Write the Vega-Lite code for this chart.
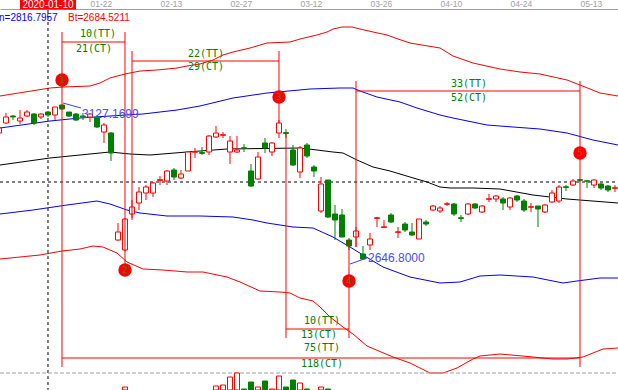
{
  "$schema": "https://vega.github.io/schema/vega-lite/v6.json",
  "width": 618,
  "height": 390,
  "autosize": "none",
  "padding": 0,
  "background": "#ffffff",
  "config": {"view": {"stroke": null}, "scale": {"continuousPadding": 0}},
  "datasets": {
    "candles": [
      {"k": -1, "o": 3038.7, "c": 3054.2, "h": 3057.3, "l": 3035.6, "t": "up"},
      {"k": 0, "o": 3069.7, "c": 3088.3, "h": 3100.7, "l": 3066.6, "t": "up"},
      {"k": 1, "o": 3091.4, "c": 3088.3, "h": 3094.5, "l": 3079, "t": "down"},
      {"k": 2, "o": 3075.9, "c": 3085.2, "h": 3110, "l": 3066.6, "t": "up"},
      {"k": 3, "o": 3091.4, "c": 3103.8, "h": 3110, "l": 3088.3, "t": "up"},
      {"k": 4, "o": 3097.6, "c": 3069.7, "h": 3100.7, "l": 3063.5, "t": "down"},
      {"k": 5, "o": 3088.3, "c": 3097.6, "h": 3100.7, "l": 3082.1, "t": "up"},
      {"k": 6, "o": 3103.8, "c": 3094.5, "h": 3106.9, "l": 3088.3, "t": "down"},
      {"k": 7, "o": 3094.5, "c": 3119.3, "h": 3119.3, "l": 3079, "t": "up"},
      {"k": 8, "o": 3125.5, "c": 3113.1, "h": 3127.17, "l": 3110, "t": "down"},
      {"k": 9, "o": 3103.8, "c": 3091.4, "h": 3103.8, "l": 3088.3, "t": "down"},
      {"k": 10, "o": 3097.6, "c": 3079, "h": 3100.7, "l": 3075.9, "t": "down"},
      {"k": 11, "o": 3091.4, "c": 3088.3, "h": 3100.7, "l": 3079, "t": "down"},
      {"k": 12, "o": 3088.3, "c": 3097.6, "h": 3100.7, "l": 3072.8, "t": "up"},
      {"k": 13, "o": 3088.3, "c": 3057.3, "h": 3094.5, "l": 3054.2, "t": "down"},
      {"k": 14, "o": 3041.8, "c": 3063.5, "h": 3069.7, "l": 3007.7, "t": "up"},
      {"k": 15, "o": 3038.7, "c": 2976.7, "h": 3041.8, "l": 2951.9, "t": "down"},
      {"k": 16, "o": 2707, "c": 2731.8, "h": 2759.7, "l": 2703.9, "t": "up"},
      {"k": 17, "o": 2676, "c": 2772.1, "h": 2775.2, "l": 2672.9, "t": "up"},
      {"k": 18, "o": 2787.6, "c": 2809.3, "h": 2831, "l": 2769, "t": "up"},
      {"k": 19, "o": 2821.7, "c": 2855.8, "h": 2871.3, "l": 2800, "t": "up"},
      {"k": 20, "o": 2852.7, "c": 2871.3, "h": 2877.5, "l": 2831, "t": "up"},
      {"k": 21, "o": 2852.7, "c": 2883.7, "h": 2886.8, "l": 2840.3, "t": "up"},
      {"k": 22, "o": 2891, "c": 2894, "h": 2905.4, "l": 2877.5, "t": "up"},
      {"k": 23, "o": 2889.9, "c": 2920.9, "h": 2924, "l": 2877.5, "t": "up"},
      {"k": 24, "o": 2924, "c": 2902.3, "h": 2930.2, "l": 2893, "t": "down"},
      {"k": 25, "o": 2899.2, "c": 2911.6, "h": 2924, "l": 2896.1, "t": "up"},
      {"k": 26, "o": 2920.9, "c": 2979.8, "h": 2979.8, "l": 2920.9, "t": "up"},
      {"k": 27, "o": 2979, "c": 2981, "h": 2992.2, "l": 2961.2, "t": "up"},
      {"k": 28, "o": 2978, "c": 2975.5, "h": 2995.3, "l": 2970.5, "t": "down"},
      {"k": 29, "o": 2979.8, "c": 3029.4, "h": 3032.5, "l": 2970.5, "t": "up"},
      {"k": 30, "o": 3026.3, "c": 3038.7, "h": 3060.4, "l": 3023.2, "t": "up"},
      {"k": 31, "o": 3031.5, "c": 3033.5, "h": 3041.8, "l": 3023.2, "t": "up"},
      {"k": 32, "o": 2979.8, "c": 3013.9, "h": 3029.4, "l": 2942.6, "t": "up"},
      {"k": 33, "o": 2979.8, "c": 2986, "h": 3029.4, "l": 2976.7, "t": "up"},
      {"k": 34, "o": 2993, "c": 2991, "h": 3004.6, "l": 2979.8, "t": "down"},
      {"k": 35, "o": 2920.9, "c": 2874.4, "h": 2942.6, "l": 2871.3, "t": "down"},
      {"k": 36, "o": 2896.1, "c": 2964.3, "h": 2979.8, "l": 2893, "t": "up"},
      {"k": 37, "o": 3007.7, "c": 2992.2, "h": 3023.2, "l": 2976.7, "t": "down"},
      {"k": 38, "o": 2979.8, "c": 3007.7, "h": 3010.8, "l": 2967.4, "t": "up"},
      {"k": 39, "o": 3038.7, "c": 3069.7, "h": 3079, "l": 3023.2, "t": "up"},
      {"k": 40, "o": 3040, "c": 3037.5, "h": 3051.1, "l": 3023.2, "t": "down"},
      {"k": 41, "o": 2986, "c": 2939.5, "h": 3001.5, "l": 2936.4, "t": "down"},
      {"k": 42, "o": 2917.8, "c": 2992.2, "h": 2998.4, "l": 2899.2, "t": "up"},
      {"k": 43, "o": 3001.5, "c": 2967.4, "h": 3007.7, "l": 2961.2, "t": "down"},
      {"k": 44, "o": 2933.3, "c": 2920.9, "h": 2939.5, "l": 2902.3, "t": "down"},
      {"k": 45, "o": 2796.9, "c": 2880.6, "h": 2902.3, "l": 2790.7, "t": "up"},
      {"k": 46, "o": 2893, "c": 2778.3, "h": 2893, "l": 2775, "t": "down"},
      {"k": 47, "o": 2787.6, "c": 2769, "h": 2815.5, "l": 2707, "t": "down"},
      {"k": 48, "o": 2784.5, "c": 2716.3, "h": 2803.1, "l": 2716.3, "t": "down"},
      {"k": 49, "o": 2707, "c": 2688.4, "h": 2713.2, "l": 2676, "t": "down"},
      {"k": 50, "o": 2716.3, "c": 2734.9, "h": 2747.3, "l": 2685.3, "t": "up"},
      {"k": 51, "o": 2663.6, "c": 2648.1, "h": 2688.4, "l": 2646.8, "t": "down"},
      {"k": 52, "o": 2691.5, "c": 2710.1, "h": 2728.7, "l": 2676, "t": "up"},
      {"k": 53, "o": 2774, "c": 2776, "h": 2778.3, "l": 2747.3, "t": "up"},
      {"k": 54, "o": 2745.5, "c": 2748, "h": 2769, "l": 2744.2, "t": "up"},
      {"k": 55, "o": 2784.5, "c": 2762.8, "h": 2790.7, "l": 2759.7, "t": "down"},
      {"k": 56, "o": 2730.5, "c": 2732.5, "h": 2747.3, "l": 2713.2, "t": "up"},
      {"k": 57, "o": 2756.6, "c": 2738, "h": 2762.8, "l": 2731.8, "t": "down"},
      {"k": 58, "o": 2731.8, "c": 2722.5, "h": 2759.7, "l": 2719.4, "t": "down"},
      {"k": 59, "o": 2710.1, "c": 2772.1, "h": 2772.1, "l": 2710.1, "t": "up"},
      {"k": 60, "o": 2762.8, "c": 2756.6, "h": 2769, "l": 2750.4, "t": "down"},
      {"k": 61, "o": 2800, "c": 2812.4, "h": 2815.5, "l": 2796.9, "t": "up"},
      {"k": 62, "o": 2796.9, "c": 2806.2, "h": 2812.4, "l": 2790.7, "t": "up"},
      {"k": 63, "o": 2817.5, "c": 2819.5, "h": 2824.8, "l": 2812.4, "t": "up"},
      {"k": 64, "o": 2818.6, "c": 2787.6, "h": 2821.7, "l": 2781.4, "t": "down"},
      {"k": 65, "o": 2776, "c": 2774, "h": 2784.5, "l": 2762.8, "t": "down"},
      {"k": 66, "o": 2787.6, "c": 2818.6, "h": 2821.7, "l": 2784.5, "t": "up"},
      {"k": 67, "o": 2818.6, "c": 2806.2, "h": 2821.7, "l": 2803.1, "t": "down"},
      {"k": 68, "o": 2793.8, "c": 2812.4, "h": 2815.5, "l": 2790.7, "t": "up"},
      {"k": 69, "o": 2833, "c": 2835, "h": 2849.6, "l": 2824.8, "t": "up"},
      {"k": 70, "o": 2834.1, "c": 2843.4, "h": 2846.5, "l": 2824.8, "t": "up"},
      {"k": 71, "o": 2834.1, "c": 2821.7, "h": 2840.3, "l": 2800, "t": "down"},
      {"k": 72, "o": 2809.3, "c": 2837.2, "h": 2840.3, "l": 2800, "t": "up"},
      {"k": 73, "o": 2843.4, "c": 2831, "h": 2846.5, "l": 2824.8, "t": "down"},
      {"k": 74, "o": 2827.9, "c": 2800, "h": 2834.1, "l": 2793.8, "t": "down"},
      {"k": 75, "o": 2808.3, "c": 2810.3, "h": 2821.7, "l": 2793.8, "t": "up"},
      {"k": 76, "o": 2812.4, "c": 2803.1, "h": 2812.4, "l": 2747.3, "t": "down"},
      {"k": 77, "o": 2793.8, "c": 2815.5, "h": 2818.6, "l": 2790.7, "t": "up"},
      {"k": 78, "o": 2824.8, "c": 2852.7, "h": 2862, "l": 2821.7, "t": "up"},
      {"k": 79, "o": 2827.9, "c": 2871.3, "h": 2877.5, "l": 2821.7, "t": "up"},
      {"k": 80, "o": 2872, "c": 2870, "h": 2877.5, "l": 2858.9, "t": "down"},
      {"k": 81, "o": 2877.5, "c": 2889.9, "h": 2896.1, "l": 2874.4, "t": "up"},
      {"k": 82, "o": 2894, "c": 2892, "h": 2896.1, "l": 2886.8, "t": "down"},
      {"k": 83, "o": 2890.5, "c": 2889.5, "h": 2890.5, "l": 2868.2, "t": "down"},
      {"k": 84, "o": 2877.5, "c": 2893, "h": 2896.1, "l": 2868.2, "t": "up"},
      {"k": 85, "o": 2880.6, "c": 2868.2, "h": 2883.7, "l": 2862, "t": "down"},
      {"k": 86, "o": 2874.4, "c": 2862, "h": 2877.5, "l": 2855.8, "t": "down"},
      {"k": 87, "o": 2867.2, "c": 2869.2, "h": 2877.5, "l": 2855.8, "t": "up"}
    ],
    "bands": [
      {"s": "U2", "k": -0.857, "v": 3153.4}, {"s": "U2", "k": 6.286, "v": 3178.2}, {"s": "U2", "k": 8.143, "v": 3181.3}, {"s": "U2", "k": 12, "v": 3184.4}, {"s": "U2", "k": 13.429, "v": 3193.7}, {"s": "U2", "k": 14.857, "v": 3209.2}, {"s": "U2", "k": 17, "v": 3221.6}, {"s": "U2", "k": 19.143, "v": 3230.9}, {"s": "U2", "k": 21.571, "v": 3234}, {"s": "U2", "k": 24.429, "v": 3240.2}, {"s": "U2", "k": 25.857, "v": 3246.4}, {"s": "U2", "k": 27.714, "v": 3252.6}, {"s": "U2", "k": 29.571, "v": 3265}, {"s": "U2", "k": 31, "v": 3280.5}, {"s": "U2", "k": 32.429, "v": 3289.8}, {"s": "U2", "k": 34.857, "v": 3302.2}, {"s": "U2", "k": 37.286, "v": 3317.7}, {"s": "U2", "k": 40.571, "v": 3320.8}, {"s": "U2", "k": 42, "v": 3330.1}, {"s": "U2", "k": 44.429, "v": 3342.5}, {"s": "U2", "k": 45.857, "v": 3351.8}, {"s": "U2", "k": 46.714, "v": 3361.1}, {"s": "U2", "k": 48, "v": 3367.3}, {"s": "U2", "k": 49.429, "v": 3367.3}, {"s": "U2", "k": 50.571, "v": 3361.1}, {"s": "U2", "k": 52.429, "v": 3351.8}, {"s": "U2", "k": 54.429, "v": 3342.5}, {"s": "U2", "k": 56, "v": 3330.1}, {"s": "U2", "k": 57.714, "v": 3317.7}, {"s": "U2", "k": 62, "v": 3302.2}, {"s": "U2", "k": 63.857, "v": 3277.4}, {"s": "U2", "k": 66.714, "v": 3255.7}, {"s": "U2", "k": 70.571, "v": 3237.1}, {"s": "U2", "k": 73.429, "v": 3227.8}, {"s": "U2", "k": 76.286, "v": 3221.6}, {"s": "U2", "k": 80.143, "v": 3203}, {"s": "U2", "k": 82, "v": 3187.5}, {"s": "U2", "k": 84.857, "v": 3162.7}, {"s": "U2", "k": 87.429, "v": 3153.4},
      {"s": "U1", "k": -0.857, "v": 3054.2}, {"s": "U1", "k": 6.286, "v": 3075.9}, {"s": "U1", "k": 10.571, "v": 3085.2}, {"s": "U1", "k": 14.857, "v": 3091.4}, {"s": "U1", "k": 19.571, "v": 3097.6}, {"s": "U1", "k": 24.429, "v": 3110}, {"s": "U1", "k": 27.714, "v": 3122.4}, {"s": "U1", "k": 32.429, "v": 3147.2}, {"s": "U1", "k": 37.286, "v": 3162.7}, {"s": "U1", "k": 43.429, "v": 3175.1}, {"s": "U1", "k": 47.714, "v": 3178.2}, {"s": "U1", "k": 49.571, "v": 3178.2}, {"s": "U1", "k": 50.571, "v": 3168.9}, {"s": "U1", "k": 53, "v": 3150.3}, {"s": "U1", "k": 56.286, "v": 3134.8}, {"s": "U1", "k": 58.714, "v": 3116.2}, {"s": "U1", "k": 62, "v": 3094.5}, {"s": "U1", "k": 63.857, "v": 3085.2}, {"s": "U1", "k": 68.714, "v": 3063.5}, {"s": "U1", "k": 72.429, "v": 3057.3}, {"s": "U1", "k": 76.286, "v": 3051.1}, {"s": "U1", "k": 80.143, "v": 3038.7}, {"s": "U1", "k": 83.857, "v": 3017}, {"s": "U1", "k": 87.429, "v": 3001.5},
      {"s": "M", "k": -0.857, "v": 2939.5}, {"s": "M", "k": 6.286, "v": 2961.2}, {"s": "M", "k": 14.857, "v": 2979.8}, {"s": "M", "k": 17.714, "v": 2973.6}, {"s": "M", "k": 20.571, "v": 2970.5}, {"s": "M", "k": 25.857, "v": 2979.8}, {"s": "M", "k": 31.571, "v": 2989.1}, {"s": "M", "k": 42, "v": 2992.2}, {"s": "M", "k": 44.429, "v": 2986}, {"s": "M", "k": 46.714, "v": 2979.8}, {"s": "M", "k": 48.143, "v": 2976.7}, {"s": "M", "k": 50.143, "v": 2955}, {"s": "M", "k": 52.429, "v": 2933.3}, {"s": "M", "k": 54.857, "v": 2920.9}, {"s": "M", "k": 57.714, "v": 2902.3}, {"s": "M", "k": 60.143, "v": 2886.8}, {"s": "M", "k": 62, "v": 2871.3}, {"s": "M", "k": 63.429, "v": 2868.2}, {"s": "M", "k": 66.714, "v": 2868.2}, {"s": "M", "k": 70.571, "v": 2865.1}, {"s": "M", "k": 75.286, "v": 2846.5}, {"s": "M", "k": 80.143, "v": 2834.1}, {"s": "M", "k": 87.429, "v": 2821.7},
      {"s": "L1", "k": -0.857, "v": 2787.6}, {"s": "L1", "k": 3.857, "v": 2800}, {"s": "L1", "k": 8.714, "v": 2815.5}, {"s": "L1", "k": 13, "v": 2827.9}, {"s": "L1", "k": 14.857, "v": 2818.6}, {"s": "L1", "k": 17.286, "v": 2800}, {"s": "L1", "k": 19.143, "v": 2790.7}, {"s": "L1", "k": 23, "v": 2781.4}, {"s": "L1", "k": 27.714, "v": 2781.4}, {"s": "L1", "k": 32.429, "v": 2778.3}, {"s": "L1", "k": 35.286, "v": 2769}, {"s": "L1", "k": 37.286, "v": 2759.7}, {"s": "L1", "k": 41, "v": 2747.3}, {"s": "L1", "k": 43.857, "v": 2744.2}, {"s": "L1", "k": 46.714, "v": 2716.3}, {"s": "L1", "k": 49.143, "v": 2685.3}, {"s": "L1", "k": 51, "v": 2660.5}, {"s": "L1", "k": 53.857, "v": 2623.3}, {"s": "L1", "k": 57.714, "v": 2592.3}, {"s": "L1", "k": 62, "v": 2573.7}, {"s": "L1", "k": 64.857, "v": 2576.8}, {"s": "L1", "k": 67.714, "v": 2595.4}, {"s": "L1", "k": 70.571, "v": 2598.5}, {"s": "L1", "k": 75.286, "v": 2592.3}, {"s": "L1", "k": 79.571, "v": 2573.7}, {"s": "L1", "k": 81.571, "v": 2579.9}, {"s": "L1", "k": 84.857, "v": 2589.2}, {"s": "L1", "k": 87.429, "v": 2589.2},
      {"s": "L2", "k": -0.857, "v": 2648.1}, {"s": "L2", "k": 2, "v": 2654.3}, {"s": "L2", "k": 4.857, "v": 2660.5}, {"s": "L2", "k": 8, "v": 2672.9}, {"s": "L2", "k": 10.571, "v": 2679.1}, {"s": "L2", "k": 12.429, "v": 2688.4}, {"s": "L2", "k": 13.857, "v": 2685.3}, {"s": "L2", "k": 15.857, "v": 2666.7}, {"s": "L2", "k": 17.286, "v": 2638.8}, {"s": "L2", "k": 19.571, "v": 2617.1}, {"s": "L2", "k": 22.429, "v": 2614}, {"s": "L2", "k": 25.857, "v": 2607.8}, {"s": "L2", "k": 28.143, "v": 2607.8}, {"s": "L2", "k": 31.571, "v": 2592.3}, {"s": "L2", "k": 33.429, "v": 2576.8}, {"s": "L2", "k": 36.286, "v": 2548.9}, {"s": "L2", "k": 39.143, "v": 2545.8}, {"s": "L2", "k": 40.571, "v": 2542.7}, {"s": "L2", "k": 42, "v": 2527.2}, {"s": "L2", "k": 43.857, "v": 2517.9}, {"s": "L2", "k": 44.857, "v": 2499.3}, {"s": "L2", "k": 46.286, "v": 2468.3}, {"s": "L2", "k": 48.143, "v": 2437.3}, {"s": "L2", "k": 49.571, "v": 2415.6}, {"s": "L2", "k": 51.571, "v": 2378.4}, {"s": "L2", "k": 55.286, "v": 2344.3}, {"s": "L2", "k": 57.714, "v": 2325.7}, {"s": "L2", "k": 60.571, "v": 2294.7}, {"s": "L2", "k": 62.429, "v": 2294.7}, {"s": "L2", "k": 64.429, "v": 2310.2}, {"s": "L2", "k": 66.714, "v": 2338.1}, {"s": "L2", "k": 67.714, "v": 2347.4}, {"s": "L2", "k": 70.571, "v": 2353.6}, {"s": "L2", "k": 75.286, "v": 2344.3}, {"s": "L2", "k": 78.143, "v": 2338.1}, {"s": "L2", "k": 80.143, "v": 2338.1}, {"s": "L2", "k": 82.429, "v": 2344.3}, {"s": "L2", "k": 83.857, "v": 2356.7}, {"s": "L2", "k": 85.286, "v": 2369.1}, {"s": "L2", "k": 87.429, "v": 2372.2}
    ],
    "vsegs": [
      {"k": 8, "p": 3351.8, "p2": 2313.3},
      {"k": 17, "p": 3351.8, "p2": 2629.5},
      {"k": 18, "p": 3292.9, "p2": 2775.2},
      {"k": 39, "p": 3292.9, "p2": 3069.7},
      {"k": 40, "p": 3038.7, "p2": 2403.2},
      {"k": 49, "p": 2707, "p2": 2403.2},
      {"k": 50, "p": 3199.9, "p2": 2685.3},
      {"k": 82, "p": 3199.9, "p2": 2313.3}
    ],
    "hsegs": [
      {"k": 8, "k2": 17, "p": 3320.8},
      {"k": 18, "k2": 39, "p": 3261.9},
      {"k": 50, "k2": 82, "p": 3168.9},
      {"k": 40, "k2": 49, "p": 2431.1},
      {"k": 8, "k2": 82, "p": 2341.2}
    ],
    "labels": [
      {"k": 13.14, "p": 3345.6, "text": "10(TT)"},
      {"k": 12.57, "p": 3299.1, "text": "21(CT)"},
      {"k": 28.57, "p": 3283.6, "text": "22(TT)"},
      {"k": 28.57, "p": 3243.3, "text": "29(CT)"},
      {"k": 66.14, "p": 3190.6, "text": "33(TT)"},
      {"k": 66.14, "p": 3147.2, "text": "52(CT)"},
      {"k": 45.14, "p": 2455.9, "text": "10(TT)"},
      {"k": 44.71, "p": 2412.5, "text": "13(CT)"},
      {"k": 45.14, "p": 2372.2, "text": "75(TT)"},
      {"k": 45.14, "p": 2322.6, "text": "118(CT)"}
    ],
    "dots": [
      {"k": 8, "p": 3203, "n": "1"},
      {"k": 17, "p": 2614, "n": "2"},
      {"k": 39, "p": 3150.3, "n": "3"},
      {"k": 49, "p": 2579.9, "n": "4"},
      {"k": 82, "p": 2976.7, "n": "5"}
    ],
    "vol": [
      {"k": 17, "v": 3060, "t": "up"},
      {"k": 30, "v": 3080, "t": "up"},
      {"k": 31, "v": 3100, "t": "up"},
      {"k": 32, "v": 3260, "t": "up"},
      {"k": 33, "v": 3340, "t": "up"},
      {"k": 34, "v": 3020, "t": "down"},
      {"k": 35, "v": 3160, "t": "down"},
      {"k": 36, "v": 3060, "t": "up"},
      {"k": 37, "v": 3180, "t": "down"},
      {"k": 38, "v": 3020, "t": "up"},
      {"k": 39, "v": 3280, "t": "up"},
      {"k": 40, "v": 3060, "t": "down"},
      {"k": 41, "v": 3200, "t": "down"},
      {"k": 42, "v": 3140, "t": "up"},
      {"k": 43, "v": 3020, "t": "down"},
      {"k": 45, "v": 3060, "t": "up"},
      {"k": 46, "v": 3020, "t": "down"}
    ]
  },
  "encoding": {
    "x": {
      "field": "k",
      "type": "quantitative",
      "scale": {"domain": [-0.857, 87.429], "nice": false, "zero": false, "padding": 0},
      "axis": {
        "orient": "top",
        "offset": -9,
        "values": [12, 22, 32, 42, 52, 62, 72, 82],
        "labelExpr": "datum.value==12?'01-22':datum.value==22?'02-13':datum.value==32?'02-27':datum.value==42?'03-12':datum.value==52?'03-26':datum.value==62?'04-10':datum.value==72?'04-24':'05-13'",
        "labelAlign": "left",
        "labelBaseline": "bottom",
        "labelPadding": 1,
        "labelColor": "#a0a0a0",
        "labelFont": "Liberation Sans",
        "labelFontSize": 8.5,
        "labelOverlap": false,
        "labelFlush": false,
        "ticks": false,
        "tickSize": 0,
        "domainColor": "#a0a0a0",
        "domainWidth": 1,
        "grid": false,
        "title": null
      }
    }
  },
  "layer": [
    {
      "resolve": {"scale": {"color": "independent", "fill": "independent", "stroke": "independent"}},
      "layer": [
        {
          "data": {"name": "bands"},
          "mark": {"type": "line", "strokeWidth": 1},
          "encoding": {
            "y": {"field": "v", "type": "quantitative", "scale": {"domain": [2242, 3451], "nice": false, "zero": false}, "axis": null},
            "color": {"field": "s", "type": "nominal", "scale": {"domain": ["U2", "U1", "M", "L1", "L2"], "range": ["#ff0000", "#0000ff", "#000000", "#0000ff", "#ff0000"]}, "legend": null}
          }
        },
        {
          "data": {"values": [{"k": -0.857, "k2": 87.429, "p": 2886.8}]},
          "mark": {"type": "rule", "color": "#000000", "strokeWidth": 1, "strokeDash": [3, 3]},
          "encoding": {
            "x2": {"field": "k2"},
            "y": {"field": "p", "type": "quantitative", "scale": {"domain": [2242, 3451], "nice": false, "zero": false}, "axis": null}
          }
        },
        {
          "data": {"values": [{"k": 6, "p": 3420, "p2": 2242}]},
          "mark": {"type": "rule", "color": "#000000", "strokeWidth": 1, "strokeDash": [3, 3]},
          "encoding": {
            "y": {"field": "p", "type": "quantitative", "scale": {"domain": [2242, 3451], "nice": false, "zero": false}, "axis": null},
            "y2": {"field": "p2"}
          }
        },
        {
          "data": {"name": "candles"},
          "mark": {"type": "rule", "strokeWidth": 1},
          "encoding": {
            "y": {"field": "h", "type": "quantitative", "scale": {"domain": [2242, 3451], "nice": false, "zero": false}, "axis": null},
            "y2": {"field": "l"},
            "color": {"field": "t", "type": "nominal", "scale": {"domain": ["up", "down"], "range": ["#ff0000", "#008000"]}, "legend": null}
          }
        },
        {
          "data": {"name": "candles"},
          "mark": {"type": "bar", "size": 5, "strokeWidth": 1, "orient": "vertical"},
          "encoding": {
            "y": {"field": "o", "type": "quantitative", "scale": {"domain": [2242, 3451], "nice": false, "zero": false}, "axis": null},
            "y2": {"field": "c"},
            "fill": {"field": "t", "type": "nominal", "scale": {"domain": ["up", "down"], "range": ["#ffffff", "#008000"]}, "legend": null},
            "stroke": {"field": "t", "type": "nominal", "scale": {"domain": ["up", "down"], "range": ["#ff0000", "#008000"]}, "legend": null}
          }
        },
        {
          "data": {"name": "vsegs"},
          "mark": {"type": "rule", "color": "#ff0000", "strokeWidth": 1},
          "encoding": {
            "y": {"field": "p", "type": "quantitative", "scale": {"domain": [2242, 3451], "nice": false, "zero": false}, "axis": null},
            "y2": {"field": "p2"}
          }
        },
        {
          "data": {"name": "hsegs"},
          "mark": {"type": "rule", "color": "#ff0000", "strokeWidth": 1},
          "encoding": {
            "x2": {"field": "k2"},
            "y": {"field": "p", "type": "quantitative", "scale": {"domain": [2242, 3451], "nice": false, "zero": false}, "axis": null}
          }
        },
        {
          "data": {"values": [
            {"k": 8.143, "k2": 10.714, "p": 3131.7, "p2": 3116.2},
            {"k": 49.143, "k2": 51.571, "p": 2632.6, "p2": 2651.2}
          ]},
          "mark": {"type": "rule", "color": "#3c3cff", "strokeWidth": 1},
          "encoding": {
            "x2": {"field": "k2"},
            "y": {"field": "p", "type": "quantitative", "scale": {"domain": [2242, 3451], "nice": false, "zero": false}, "axis": null},
            "y2": {"field": "p2"}
          }
        },
        {
          "data": {"values": [
            {"k": 10.857, "p": 3097.6, "text": "3127.1699"},
            {"k": 51.714, "p": 2651.2, "text": "2646.8000"}
          ]},
          "mark": {"type": "text", "font": "Liberation Sans", "fontSize": 12, "color": "#4a4aff", "align": "left", "baseline": "middle"},
          "encoding": {
            "y": {"field": "p", "type": "quantitative", "scale": {"domain": [2242, 3451], "nice": false, "zero": false}, "axis": null},
            "text": {"field": "text"}
          }
        },
        {
          "data": {"name": "dots"},
          "mark": {"type": "point", "shape": "circle", "filled": true, "opacity": 1, "size": 180, "color": "#ff0000", "strokeWidth": 0},
          "encoding": {
            "y": {"field": "p", "type": "quantitative", "scale": {"domain": [2242, 3451], "nice": false, "zero": false}, "axis": null}
          }
        },
        {
          "data": {"name": "dots"},
          "mark": {"type": "text", "font": "DejaVu Sans Mono", "fontSize": 9, "color": "#707000", "align": "center", "baseline": "middle"},
          "encoding": {
            "y": {"field": "p", "type": "quantitative", "scale": {"domain": [2242, 3451], "nice": false, "zero": false}, "axis": null},
            "text": {"field": "n"}
          }
        },
        {
          "data": {"name": "labels"},
          "mark": {"type": "text", "font": "DejaVu Sans Mono", "fontSize": 10, "color": "#008000", "align": "center", "baseline": "middle"},
          "encoding": {
            "y": {"field": "p", "type": "quantitative", "scale": {"domain": [2242, 3451], "nice": false, "zero": false}, "axis": null},
            "text": {"field": "text"}
          }
        },
        {
          "data": {"values": [{"k": -1, "p": 3395.2, "text": "n=2816.7957"}]},
          "mark": {"type": "text", "font": "Liberation Sans", "fontSize": 10, "color": "#0000ff", "align": "left", "baseline": "middle"},
          "encoding": {
            "y": {"field": "p", "type": "quantitative", "scale": {"domain": [2242, 3451], "nice": false, "zero": false}, "axis": null},
            "text": {"field": "text"}
          }
        },
        {
          "data": {"values": [{"k": 8.857, "p": 3395.2, "text": "Bt=2684.5211"}]},
          "mark": {"type": "text", "font": "Liberation Sans", "fontSize": 10, "color": "#ff0000", "align": "left", "baseline": "middle"},
          "encoding": {
            "y": {"field": "p", "type": "quantitative", "scale": {"domain": [2242, 3451], "nice": false, "zero": false}, "axis": null},
            "text": {"field": "text"}
          }
        },
        {
          "data": {"values": [{"k": 2, "k2": 10, "p": 3451, "p2": 3421.5}]},
          "mark": {"type": "rect", "color": "#ff0000"},
          "encoding": {
            "x2": {"field": "k2"},
            "y": {"field": "p", "type": "quantitative", "scale": {"domain": [2242, 3451], "nice": false, "zero": false}, "axis": null},
            "y2": {"field": "p2"}
          }
        },
        {
          "data": {"values": [{"k": 6, "p": 3425.6, "text": "2020-01-10"}]},
          "mark": {"type": "text", "font": "Liberation Sans", "fontSize": 10, "color": "#ffffff", "align": "center", "baseline": "alphabetic"},
          "encoding": {
            "y": {"field": "p", "type": "quantitative", "scale": {"domain": [2242, 3451], "nice": false, "zero": false}, "axis": null},
            "text": {"field": "text"}
          }
        }
      ]
    },
    {
      "resolve": {"scale": {"fill": "independent", "stroke": "independent"}},
      "layer": [
        {
          "data": {"values": [{"k": -0.857, "k2": 87.429, "v": 3340}]},
          "mark": {"type": "rule", "color": "#a0a0a0", "strokeWidth": 1, "strokeDash": [4, 2]},
          "encoding": {
            "x2": {"field": "k2"},
            "y": {"field": "v", "type": "quantitative", "scale": {"domain": [3000, 10800], "nice": false, "zero": false}, "axis": null}
          }
        },
        {
          "data": {"name": "vol"},
          "mark": {"type": "bar", "size": 5, "strokeWidth": 1, "orient": "vertical"},
          "encoding": {
            "y": {"field": "v", "type": "quantitative", "scale": {"domain": [3000, 10800], "nice": false, "zero": false}, "axis": null},
            "y2": {"datum": 3000},
            "fill": {"field": "t", "type": "nominal", "scale": {"domain": ["up", "down"], "range": ["#ffffff", "#008000"]}, "legend": null},
            "stroke": {"field": "t", "type": "nominal", "scale": {"domain": ["up", "down"], "range": ["#ff0000", "#008000"]}, "legend": null}
          }
        }
      ]
    }
  ],
  "resolve": {"scale": {"y": "independent"}}
}
